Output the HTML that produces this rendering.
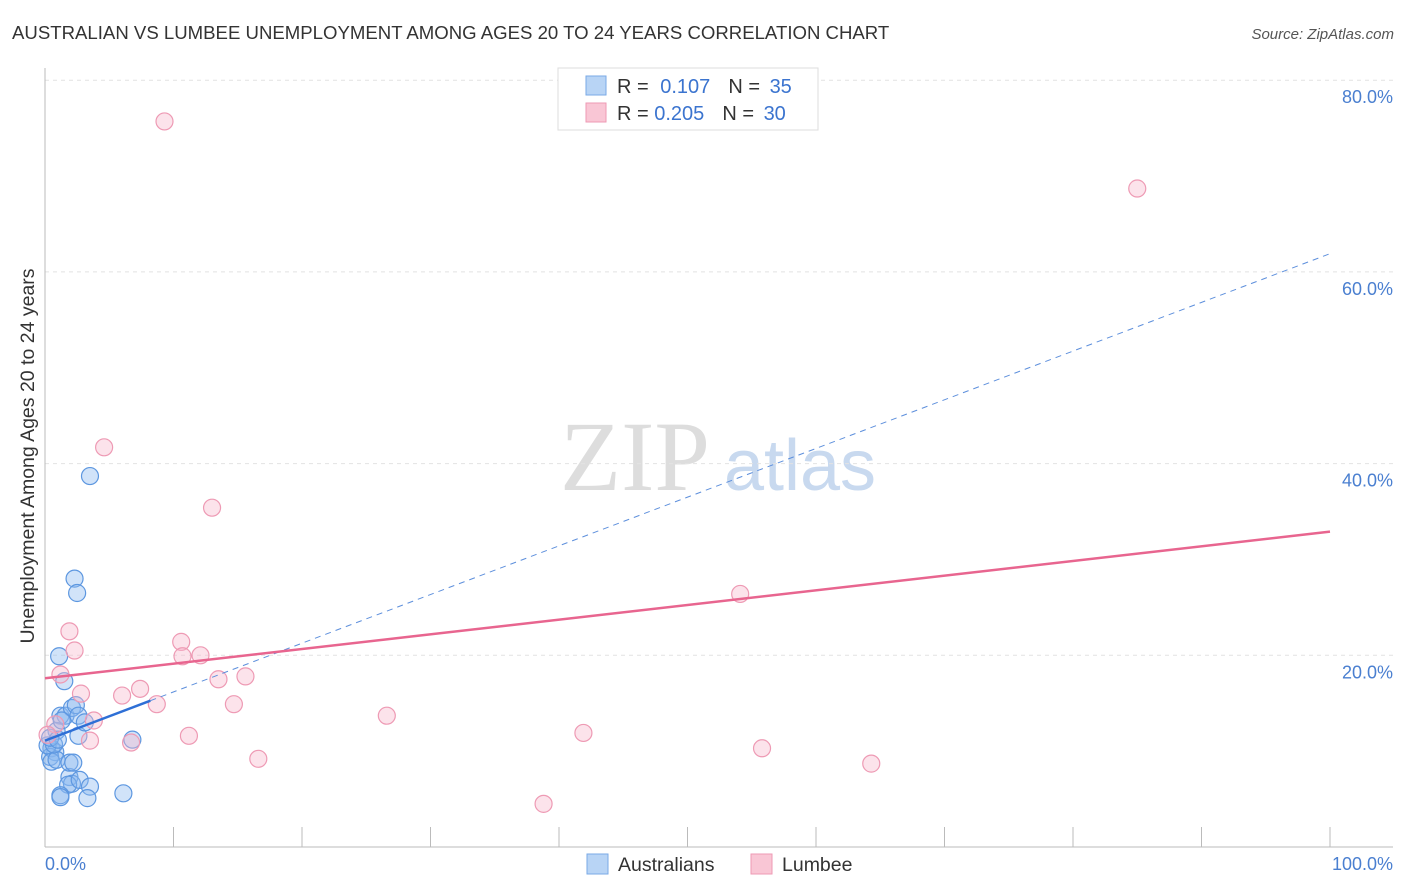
<!DOCTYPE html>
<html><head><meta charset="utf-8"><style>
body{margin:0;background:#fff;font-family:"Liberation Sans",sans-serif;}
svg{display:block}
</style></head><body>
<svg id="chart" width="1406" height="892" viewBox="0 0 1406 892" xmlns="http://www.w3.org/2000/svg" font-family="Liberation Sans, sans-serif">
<text x="12" y="39" font-size="18.6" fill="#333">AUSTRALIAN VS LUMBEE UNEMPLOYMENT AMONG AGES 20 TO 24 YEARS CORRELATION CHART</text>
<text x="1394" y="39" font-size="15" fill="#555" text-anchor="end" font-style="italic">Source: ZipAtlas.com</text>
<g>
<text x="635" y="490" font-size="100" font-family="Liberation Serif, serif" fill="#ddd" text-anchor="middle">ZIP</text>
<text x="800" y="490" font-size="72" fill="#c8d9ef" text-anchor="middle">atlas</text>
</g>
<g id="grid"></g>
<line x1="45" y1="68" x2="45" y2="847" stroke="#bbb"/>
<line x1="45" y1="847" x2="1393" y2="847" stroke="#bbb"/>
<g id="ticks"></g>
<text transform="translate(34,456) rotate(-90)" font-size="19.5" fill="#333" text-anchor="middle">Unemployment Among Ages 20 to 24 years</text>
<text x="45" y="870" font-size="18" fill="#4a7fd0">0.0%</text>
<text x="1393" y="870" font-size="18" fill="#4a7fd0" text-anchor="end">100.0%</text>
<g id="marks"></g>
<g>
<rect x="558" y="68" width="260" height="62" fill="#fff" stroke="#ddd"/>
<rect x="586" y="76" width="20" height="19" fill="#b8d4f5" stroke="#7aaae6"/>
<rect x="586" y="103" width="20" height="19" fill="#f9c6d5" stroke="#ee9ab4"/>
<text x="617" y="93" font-size="20" fill="#333">R = <tspan fill="#3b74cf" dx="6">0.107</tspan><tspan dx="18" fill="#333">N = </tspan><tspan fill="#3b74cf" dx="4">35</tspan></text>
<text x="617" y="120" font-size="20" fill="#333">R = <tspan fill="#3b74cf">0.205</tspan><tspan dx="18" fill="#333">N = </tspan><tspan fill="#3b74cf" dx="4">30</tspan></text>
</g>
<g>
<rect x="587" y="854" width="21" height="20" fill="#b8d4f5" stroke="#7aaae6"/>
<text x="618" y="871" font-size="19.5" fill="#333">Australians</text>
<rect x="751" y="854" width="21" height="20" fill="#f9c6d5" stroke="#ee9ab4"/>
<text x="782" y="871" font-size="19.5" fill="#333">Lumbee</text>
</g>
</svg>
<script>
const yTicks=[20,40,60,80];
const yTickLabels=["20.0%","40.0%","60.0%","80.0%"];
const xTicks=[0,10,20,30,40,50,60,70,80,90,100];
const ausX=[3.5,2.3,2.5,1.1,1.5,1.2,1.6,2.1,2.4,2.6,0.9,2.6,0.5,0.8,0.4,0.5,0.9,6.8,1.9,2.1,1.8,2.7,3.5,1.2,1.2,3.3,6.1,1.9,2.2,0.2,0.7,1.3,0.4,1.0,3.1];
const ausY=[38.7,28.0,26.5,19.9,17.3,13.7,13.7,14.5,14.8,13.7,12.1,11.6,10.3,9.9,9.4,8.9,9.1,11.2,7.3,6.6,6.5,7.0,6.3,5.4,5.2,5.1,5.6,8.8,8.8,10.6,10.7,13.2,11.4,11.2,13.0];
const lumX=[9.3,85.0,4.6,13.0,54.1,1.9,2.3,10.6,10.7,12.1,1.2,2.8,6.0,7.4,8.7,13.5,15.6,14.7,3.8,26.6,41.9,11.2,6.7,3.5,0.8,55.8,16.6,64.3,38.8,0.2];
const lumY=[75.7,68.7,41.7,35.4,26.4,22.5,20.5,21.4,19.9,20.0,18.0,16.0,15.8,16.5,14.9,17.5,17.8,14.9,13.2,13.7,11.9,11.6,10.9,11.1,12.8,10.3,9.2,8.7,4.5,11.7];
const ausTrend=[11.1,61.9];
const ausSolidEnd=8.2;
const lumTrend=[17.6,32.9];
const NS="http://www.w3.org/2000/svg";
const X=v=>45+v*12.85;
const Y=v=>847-v*9.585;
function mk(tag,attrs,parent){const e=document.createElementNS(NS,tag);for(const k in attrs)e.setAttribute(k,attrs[k]);parent.appendChild(e);return e;}
const grid=document.getElementById('grid'),ticks=document.getElementById('ticks'),marks=document.getElementById('marks');
yTicks.forEach((t,i)=>{
 const l=mk('line',{x1:45,x2:1393,y1:Y(t),y2:Y(t),stroke:'#e2e2e2','stroke-dasharray':'4,4'},grid);
 
 
 const tx=mk('text',{x:1393,y:Y(t)+23,'font-size':18,fill:'#4a7fd0','text-anchor':'end'},grid);
 tx.textContent=yTickLabels[i];
 
 
});
xTicks.forEach(t=>{
 const l=mk('line',{x1:X(t),x2:X(t),y1:827,y2:847,stroke:'#bbb'},ticks);
 
 
});
ausX.forEach((x,i)=>{
 const c=mk('circle',{cx:X(x),cy:Y(ausY[i]),r:8.5,fill:'rgba(140,185,240,0.4)',stroke:'#5d97e0','stroke-width':1.2},marks);
 
 
});
lumX.forEach((x,i)=>{
 const c=mk('circle',{cx:X(x),cy:Y(lumY[i]),r:8.5,fill:'rgba(248,185,205,0.4)',stroke:'#ee9ab4','stroke-width':1.2},marks);
 
 
});
const ay=v=>ausTrend[0]+(ausTrend[1]-ausTrend[0])*v/100;
const d=mk('line',{x1:X(ausSolidEnd),y1:Y(ay(ausSolidEnd)),x2:X(100),y2:Y(ay(100)),stroke:'#5d8fdc','stroke-width':1,'stroke-dasharray':'6,5'},marks);


const s=mk('line',{x1:X(0),y1:Y(ay(0)),x2:X(ausSolidEnd),y2:Y(ay(ausSolidEnd)),stroke:'#2e6fd6','stroke-width':2.5},marks);


const p=mk('line',{x1:X(0),y1:Y(lumTrend[0]),x2:X(100),y2:Y(lumTrend[1]),stroke:'#e8658f','stroke-width':2.5},marks);


</script>
</body></html>
